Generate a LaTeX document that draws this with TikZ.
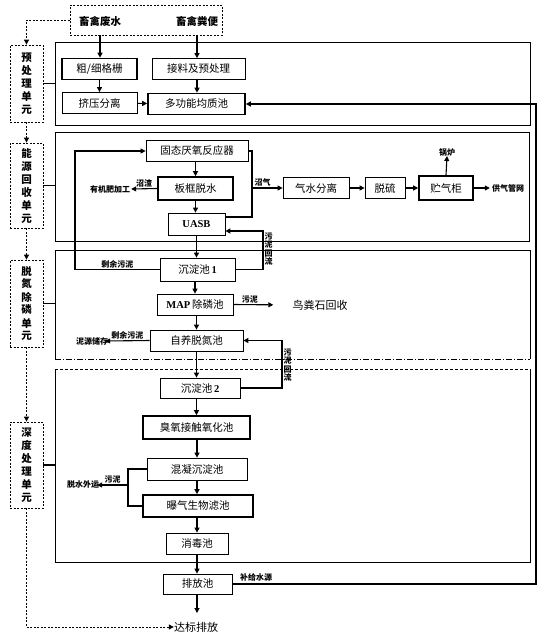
\documentclass[tikz,border=0pt]{standalone}
\usepackage{fontspec}
\setmainfont{Noto Sans CJK SC}
\newfontfamily\lat{Liberation Serif}
\usetikzlibrary{arrows.meta}
\begin{document}
\begin{tikzpicture}[x=1pt,y=-1pt,
  every node/.style={inner sep=0pt},
  box/.style={draw, line width=0.8pt, minimum height=21pt, font=\fontsize{10.5}{12}\selectfont},
  tbox/.style={box, line width=1.6pt},
  unit/.style={draw, line width=0.8pt, dash pattern=on 2pt off 1.5pt, minimum width=33pt, align=center, font=\fontsize{10.5}{13}\selectfont\bfseries},
  sec/.style={draw, line width=0.8pt},
  lab/.style={font=\fontsize{8}{9}\selectfont\bfseries},
  vlab/.style={font=\fontsize{8}{8.5}\selectfont\bfseries, align=center},
  arr/.style={line width=1.1pt, -{Triangle[length=5pt,width=5pt]}},
  ln/.style={line width=1.1pt},
  dsh/.style={line width=1pt, dash pattern=on 2pt off 1.5pt},
]
\useasboundingbox (0,0) rectangle (540,635);

% sections
\node[sec, minimum width=475pt, minimum height=83pt] (s1) at (292.5,83.5) {};
\node[sec, minimum width=474pt, minimum height=109pt] (s2) at (292,186.5) {};
\coordinate (s3a) at (55,359); \coordinate (s3b) at (55,250);
\coordinate (s3c) at (530,250); \coordinate (s3d) at (530,359);
\draw[sec] (s3a) -- (s3b) -- (s3c) -- (s3d);
\draw[line width=0.8pt, dash pattern=on 6pt off 2pt on 1pt off 2pt] (s3a) -- (s3d);
\coordinate (s4a) at (55,369); \coordinate (s4b) at (55,562);
\coordinate (s4c) at (530,562); \coordinate (s4d) at (530,369);
\draw[sec] (s4a) -- (s4b) -- (s4c) -- (s4d);
\draw[line width=0.8pt, dash pattern=on 3pt off 2pt] (s4a) -- (s4d);

% unit boxes
\node[unit, minimum height=77pt] (u1) at (26.5,83.5) {预\\处\\理\\单\\元};
\node[unit, minimum height=85pt] (u2) at (26.5,185.5) {能\\源\\回\\收\\单\\元};
\node[unit, minimum height=87pt] (u3) at (26.5,303.5) {脱\\氮\\除\\磷\\单\\元};
\node[unit, minimum height=86pt] (u4) at (26.5,465) {深\\度\\处\\理\\单\\元};
\draw[ln] (u1.east) -- (u1.east -| s1.west);
\draw[ln] (u2.east) -- (u2.east -| s2.west);
\draw[ln] (u3.east) -- (u3.east -| s3b);
\draw[ln] (u4.east) -- (u4.east -| s4a);

% source
\node[draw, line width=0.8pt, dash pattern=on 2pt off 1.5pt, minimum width=152pt, minimum height=30pt] (src) at (146,20) {};
\node[font=\fontsize{10.5}{12}\selectfont\bfseries] (fs) at (100,21) {畜禽废水};
\node[font=\fontsize{10.5}{12}\selectfont\bfseries] (fb) at (197,21) {畜禽粪便};
\node[font=\fontsize{11}{12}\selectfont] (db) at (196,627) {达标排放};

% unit dashed flow
\draw[dsh, -{Triangle[length=5pt,width=5pt]}] (src.west) -| (u1.north);
\draw[dsh, -{Triangle[length=5pt,width=5pt]}] (u1.south) -- (u2.north);
\draw[dsh, -{Triangle[length=5pt,width=5pt]}] (u2.south) -- (u3.north);
\draw[dsh, -{Triangle[length=5pt,width=5pt]}] (u3.south) -- (u4.north);
\draw[dsh, -{Triangle[length=5pt,width=5pt]}] (u4.south) |- (db.west);

% section 1
\node[tbox, minimum width=75pt] (gs) at (99.5,69) {粗/细格栅};
\node[box, minimum width=93pt] (jl) at (198.5,69) {接料及预处理};
\node[box, minimum width=75pt] (jy) at (99.5,103) {挤压分离};
\node[tbox, minimum width=97pt] (dg) at (196.5,104) {多功能均质池};
\draw[arr] (src.south -| fs) -- (gs.north -| fs);
\draw[arr] (src.south -| fb) -- (jl.north -| fb);
\draw[arr] (gs) -- (jy);
\draw[arr] (jl.south -| fb) -- (dg.north -| fb);
\draw[arr] (jy) -- (dg);

% section 2
\node[box, minimum width=102pt] (gt) at (197,151) {固态厌氧反应器};
\node[tbox, minimum width=75pt, minimum height=23pt] (bk) at (195.5,188.5) {板框脱水};
\node[box, minimum width=57pt, minimum height=22pt] (ua) at (196.5,224) {\lat\bfseries UASB};
\node[box, minimum width=66pt] (qs) at (316,188) {气水分离};
\node[box, minimum width=40pt] (tl) at (385,188) {脱硫};
\node[tbox, minimum width=54pt, minimum height=24pt] (zq) at (446,188) {贮气柜};
\node[lab] (gl) at (447,152) {锅炉};
\node[lab] (gw) at (508,188) {供气管网};
\node[lab] (yj) at (110,189) {有机肥加工};
\coordinate (bg) at (252,188);
\draw[arr] (gt.south -| bk) -- (bk);
\draw[arr] (bk) -- (ua.north -| bk);
\draw[arr] (bk.west) -- ([xshift=1pt]yj.east) node[lab, midway, above=1pt] {沼渣};
\draw[ln] (gt.east) -| (bg);
\draw[ln] ([yshift=7pt]ua.east) -| (bg);
\draw[arr] (bg) -- (qs.west) node[lab, pos=0.35, above=1pt] {沼气};
\draw[arr] (qs) -- (tl);
\draw[arr] (tl) -- (zq);
\draw[arr] (zq.north) -- (gl.south);
\draw[arr] (zq.east) -- ([xshift=-2pt]gw.west);

% section 3
\node[box, minimum width=75pt, minimum height=23pt] (c1) at (197.5,269.5) {沉淀池\,{\lat\bfseries 1}};
\node[box, minimum width=76pt] (map) at (195,304.5) {{\lat\bfseries MAP}\,除磷池};
\node[font=\fontsize{11}{12}\selectfont] (nf) at (320,305) {鸟粪石回收};
\node[box, minimum width=93pt] (zy) at (196.5,340.5) {自养脱氮池};
\node[lab] (ny) at (92,341) {泥源储存};
\draw[arr] (ua.south) -- (c1.north -| ua.south);
\draw[arr] (c1.south -| map) -- (map);
\draw[arr] (map.south -| zy) -- (zy);
\draw[arr, shorten >=19pt] (map.east) -- (nf.west) node[lab, pos=0.28, above=1pt] {污泥};
\draw[arr] (zy.west) -- ([xshift=-3pt]ny.east) node[lab, midway, above=1pt] {剩余污泥};
\draw[arr] (c1.west) -| (75,151) -- (gt.west);
\path (c1.west) -- (75,269.5) node[lab, midway, above=1.5pt] {剩余污泥};
\draw[arr] (c1.east) -| (263,231) -- ([yshift=-7pt]ua.east);
\node[vlab] (hl1) at (268.5,249) {污\\泥\\回\\流};

% section 4
\node[box, minimum width=80pt, minimum height=20pt] (c2) at (200,388) {沉淀池\,{\lat\bfseries 2}};
\node[tbox, minimum width=107pt, minimum height=23pt] (cy) at (196.5,427.5) {臭氧接触氧化池};
\node[box, minimum width=100pt, minimum height=22pt] (hn) at (197,469) {混凝沉淀池};
\node[tbox, minimum width=110pt, minimum height=22pt] (bq) at (198,506) {曝气生物滤池};
\node[box, minimum width=62pt, minimum height=21pt] (xd) at (197,543.5) {消毒池};
\node[box, minimum width=69pt, minimum height=20pt] (pf) at (197.5,584) {排放池};
\node[lab] (ts) at (83,485) {脱水外运};
\draw[arr] (zy.south) -- (c2.north -| zy.south);
\draw[arr] (c2.south -| cy) -- (cy);
\draw[arr] (cy.south -| hn) -- (hn);
\draw[arr] (hn.south -| hn) -- (bq.north -| hn);
\draw[arr] (bq.south -| xd) -- (xd);
\draw[arr] (xd) -- (pf.north -| xd);
\draw[arr] (pf.south -| xd) -- (197,613);
\draw[arr] (c2.east) -| (282,340.5) -- (zy.east);
\node[vlab] (hl2) at (287.5,365) {污\\泥\\回\\流};
\coordinate (sj) at (128,485);
\draw[ln] (hn.west) -| (sj) |- (bq.west);
\draw[arr] (sj) -- ([xshift=-2pt]ts.east) node[lab, midway, above=1pt] {污泥};

% return water line
\draw[arr, line width=1.8pt] (pf.east) -- (536,584) -- (536,104) -- (dg.east);
\node[lab, anchor=south west] (bj) at (240,581) {补给水源};
\end{tikzpicture}
\end{document}
